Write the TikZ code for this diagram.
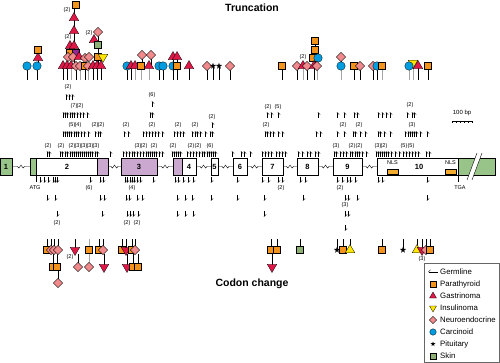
\documentclass[tikz,border=0pt]{standalone}
\usepackage{fontspec}
\setmainfont{Liberation Sans}
\usepackage{tikz}
\usetikzlibrary{arrows.meta, shapes.geometric}

\definecolor{exgreen}{RGB}{152,196,138}
\definecolor{expurple}{RGB}{203,168,208}
\definecolor{paracol}{RGB}{242,148,28}
\definecolor{gastcol}{RGB}{224,24,72}
\definecolor{insucol}{RGB}{255,232,0}
\definecolor{neurocol}{RGB}{240,138,140}
\definecolor{carccol}{RGB}{0,158,224}
\definecolor{skincol}{RGB}{142,176,116}
\definecolor{nlscol}{RGB}{242,172,48}
\definecolor{oddcol}{RGB}{150,40,150}

% intron with a break mark
\newcommand{\intron}[2]{\draw[line width=0.4pt] (#1,166.5) -- ({(#1+#2)/2-3.5},166.5) -- ++(1.5,1.5) -- ++(2,-3) -- ++(2,3) -- ++(1.5,-1.5) -- (#2,166.5);}

\begin{document}
\begin{tikzpicture}[x=1pt, y=-1pt,
  upa/.style={line width=0.4pt, -{Straight Barb[harpoon, swap, length=2pt, width=4.4pt]}},
  dna/.style={line width=0.4pt, -{Straight Barb[harpoon, length=2pt, width=4.4pt]}},
  stem/.style={line width=0.4pt},
  gstem/.style={line width=0.7pt, black!35},
  cnt/.style={font=\fontsize{5.5}{6}\selectfont, inner sep=0pt},
  small/.style={font=\fontsize{5.5}{6}\selectfont, inner sep=0pt},
  exlab/.style={font=\fontsize{7.5}{8}\selectfont\bfseries, inner sep=0pt},
  title/.style={font=\fontsize{10.5}{12}\selectfont\bfseries, inner sep=0pt},
  legtxt/.style={font=\fontsize{7.8}{9}\selectfont, anchor=west, inner sep=0pt},
  parabox/.style={draw, line width=0.3pt, fill=paracol, rectangle, minimum size=7pt, inner sep=0pt},
  skinbox/.style={parabox, fill=skincol},
  oddbox/.style={parabox, fill=oddcol},
  gastri/.style={draw, line width=0.3pt, fill=gastcol, regular polygon, regular polygon sides=3, minimum size=11pt, inner sep=0pt},
  gastinv/.style={gastri, shape border rotate=180},
  insuli/.style={gastri, fill=insucol, shape border rotate=180},
  insup/.style={gastri, fill=insucol},
  neuroe/.style={draw, line width=0.3pt, fill=neurocol, diamond, minimum size=9.5pt, inner sep=0pt},
  carcin/.style={draw, line width=0.3pt, fill=carccol, circle, minimum size=8.5pt, inner sep=0pt},
  pituit/.style={star, star points=5, star point ratio=2.5, fill=black, minimum size=6.5pt, inner sep=0pt}]

  \useasboundingbox (0,0) rectangle (500,363);

  % Titles
  \node[title] (ttrunc) at (252,8) {Truncation};
  \node[title] (tcodon) at (252,284) {Codon change};

  % Introns
  \intron{12}{30} \intron{108}{121} \intron{157}{173} \intron{196}{211} \intron{218}{233}
  \intron{247}{262} \intron{283}{297} \intron{318}{333} \intron{362}{377}

  % Exons
  \draw[line width=0.4pt, fill=exgreen] (0,158) rectangle (12,175);
  \draw[line width=0.4pt, fill=exgreen] (30,158) rectangle (36,175);
  \draw[line width=0.4pt, fill=white] (36,158) rectangle (97,175);
  \draw[line width=0.4pt, fill=expurple] (97,158) rectangle (108,175);
  \draw[line width=0.4pt, fill=expurple] (121,158) rectangle (157,175);
  \draw[line width=0.4pt, fill=expurple] (173,158) rectangle (182,175);
  \draw[line width=0.4pt, fill=white] (182,158) rectangle (196,175);
  \draw[line width=0.4pt, fill=white] (211,158) rectangle (218,175);
  \draw[line width=0.4pt, fill=white] (233,158) rectangle (247,175);
  \draw[line width=0.4pt, fill=white] (262,158) rectangle (283,175);
  \draw[line width=0.4pt, fill=white] (297,158) rectangle (318,175);
  \draw[line width=0.4pt, fill=white] (333,158) rectangle (362,175);
  \draw[line width=0.4pt, fill=white] (377,158) rectangle (458,175);
  \draw[line width=0.4pt, fill=exgreen] (458,158) rectangle (495,175);
  \foreach \x/\t [count=\i] in {6/1, 67/2, 139/3, 189/4, 214.5/5, 240/6, 272.5/7, 307.5/8, 347.5/9, 419/10}
    \node[exlab] (ex\i) at (\x,166.5) {\t};

  % NLS boxes
  \draw[line width=0.4pt, fill=nlscol] (387,169) rectangle (398,174.5);
  \draw[line width=0.4pt, fill=nlscol] (445,169) rectangle (456,174.5);
  \node[small] (nls1) at (392.5,163) {NLS};
  \node[small] (nls2) at (450.5,163) {NLS};

  % break in exon 10
  \fill[white] (467,180) -- (477,153) -- (482,153) -- (472,180) -- cycle;
  \draw[line width=0.4pt] (467,180) -- (477,153);
  \draw[line width=0.4pt] (472,180) -- (482,153);

  % ATG / TGA
  \draw[line width=0.4pt] (36,175) -- (36,182);
  \node[small] (atg) at (35,188) {ATG};
  \draw[line width=0.4pt] (458,175) -- (458,182);
  \node[small] (tga) at (460,188) {TGA};

  % scale bar
  \node[font=\fontsize{6}{7}\selectfont, inner sep=0pt] (bp) at (462,113) {100 bp};
  \draw[line width=0.4pt] (452,121) -- (472,121);
  \foreach \x in {452,456,460,464,468,472} \draw[line width=0.4pt] (\x,121) -- (\x,123.5);

  % truncating mutations above the exons
  \foreach \x in {47,49, 60,62,65,67,70,72,74,76,78,80,82,84,86,88,90,92,95,97, 110,
      123,126,129,132,134,137,140,143,146,148,150,152,154,156,159,162,
      172,174,176,178,180, 187,190,193,196,199,202, 204,207,209,211,213,215,
      232,241,244,250, 262,265,268,271,276,279,282,285, 298,302,307,310,315,318,
      334,336,340,343,346,350,352,355,357,359,362,366,
      376,378,380,382,384,386,388,391,395,399,403,406,409,412,415,418, 426,429}
    \draw[upa] (\x,157) -- ++(0,-6);
  \foreach \x in {63,65,67,69,71,74,76,78,81,84,88, 95,98,100, 124,128,
      143,146,149,152,155,158,162, 174,177,180,183, 192,195,197,200, 205,210,212,
      265,267,270,273, 278,282, 316,320, 337,344, 353,355,360,365,
      378,380,384,390, 405,408,410,412,414,416,420, 427}
    \draw[upa] (\x,137) -- ++(0,-6);
  \foreach \x in {63,65,67,70,72,74,77,80,83,87, 150,152, 267,271,278, 318,
      337,344, 354,357, 378,382,386,390, 407,412,414}
    \draw[upa] (\x,118) -- ++(0,-6);
  \foreach \x in {66,69,72} \draw[upa] (\x,100) -- ++(0,-6);
  \draw[upa] (212,128) -- ++(0,-6);
  \draw[upa] (152,107) -- ++(0,-6);

  % mutations below the exons
  \foreach \x in {40,44,48, 53,55,57, 90, 100,103, 125,127,130,132,134,137,140, 153,
      175,178,183,188,193, 211, 237, 262,268, 278,282, 300,305,
      337,342,347,350,355, 378,382, 427}
    \draw[dna] (\x,177) -- ++(0,6);
  \foreach \x in {47,55, 100,104, 126,129,137,142, 177,185,192, 211, 237, 264, 303,
      345,348, 357, 427}
    \draw[dna] (\x,195) -- ++(0,6);
  \foreach \x in {57, 102, 127,130,133,138, 177,185,193, 264, 345,348}
    \draw[dna] (\x,211) -- ++(0,6);
  \draw[dna] (345,225) -- ++(0,6);

  % counts
  \foreach \x/\y/\t [count=\i] in {48/146/2, 61/146/2, 72/146/2, 78/146/3, 84/146/3, 90/146/3, 96/146/3,
      138/146/3, 144/146/2, 154/146/2, 173/146/2, 191/146/2, 198/146/2, 210/146/6,
      336/146/3, 352/146/2, 359/146/2, 378/146/3, 384/146/2, 404/146/5, 411/146/5,
      72/125/5, 78/125/4, 95/125/2, 101/125/2, 126/125/2, 152/125/2, 178/125/2, 195/125/2,
      266/125/2, 343/125/2, 359/125/2, 412/125/3,
      74/106/7, 80/106/2, 268/107/2, 278/107/5, 410/105/2, 212/117/2, 68/87/2, 152/95/6,
      89/188/6, 132/188/4, 281/188/2, 340/188/2, 57/223/2, 127/223/2, 137/223/2, 345/205/3,
      67/10/2, 68/37/2, 89/33/2, 303/57/2, 70/257/2, 422/259/3}
    \node[cnt] (n\i) at (\x,\y) {(\t)};

  % Truncation: stems
  \foreach \x in {27,37,63,67,76,85,93,97,101,127,131,159,163,173,177,
      189,207,213,219,230,282,297,307,314,354,360,373,377,418,428}
    \draw[stem] (\x,66) -- (\x,80);
  \foreach \x in {71,80,88,135,141,149,303,317,341,382,409,413}
    \draw[gstem] (\x,66) -- (\x,80);
  \draw[stem] (38,50) -- (38,66);
  \draw[stem] (74,5) -- (74,66);
  \draw[stem] (98,32) -- (98,66);
  \foreach \x/\y in {142/55, 151/55, 173/57, 177/57, 315/41, 341/57}
    \draw[stem] (\x,\y) -- (\x,66);

  % Truncation: stacked symbols
  \foreach \x/\y/\s [count=\i] in {38/58/gastri, 38/50/parabox,
      76/5/parabox, 74/18/gastri, 74/31/gastri, 70/46/gastri, 74/46/gastri,
      70/53/parabox, 76/53/oddbox, 68/57/neuroe, 73/57/neuroe, 79/57/gastri, 85/58/neuroe, 89/57/neuroe,
      98/32/neuroe, 94/40/gastri, 98/45/skinbox, 98/57/parabox, 103/57/insuli,
      142/55/neuroe, 151/55/neuroe, 173/57/gastri, 177/57/gastri,
      315/41/parabox, 315/50/parabox, 313/58/parabox, 318/58/carcin, 341/57/neuroe, 413/63/insuli}
    \node[\s] (s\i) at (\x,\y) {};

  % Truncation: base row
  \foreach \x/\s [count=\i] in {27/carcin, 37/carcin, 63/gastri, 67/gastri, 71/gastri, 76/neuroe,
      80/neuroe, 85/parabox, 88/neuroe, 93/gastri, 97/gastri, 101/gastri, 127/carcin, 131/gastri,
      135/gastri, 141/parabox, 149/gastri, 159/carcin, 163/carcin, 173/carcin, 177/parabox,
      189/gastri, 207/neuroe, 213/pituit, 219/pituit, 230/neuroe, 282/parabox, 297/neuroe,
      303/gastri, 307/neuroe, 314/gastri, 317/neuroe, 341/carcin, 354/parabox, 360/neuroe,
      373/neuroe, 377/carcin, 382/parabox, 409/carcin, 418/gastri, 428/parabox}
    \node[\s] (t\i) at (\x,66) {};

  % Codon change: stems
  \foreach \x in {47,51,54,58,75,99,103,122,126,132,135,271,277,300,337,343,350,382,403,417,422,426,430}
    \draw[stem] (\x,239) -- (\x,250);
  \draw[gstem] (89,239) -- (89,250);
  \foreach \x in {53,57,78,104,127,133,138,272}
    \draw[stem] (\x,254) -- (\x,267);
  \draw[gstem] (89,254) -- (89,267);
  \draw[stem] (58,267) -- (58,283);

  % Codon change: symbols
  \foreach \x/\y/\s [count=\i] in {58/283/neuroe,
      53/267/parabox, 57/267/parabox, 78/267/neuroe, 89/267/neuroe, 104/267/gastinv,
      127/267/gastinv, 133/267/parabox, 138/267/parabox, 272/267/gastinv,
      47/250/parabox, 51/250/neuroe, 54/250/neuroe, 58/250/neuroe, 75/250/gastinv, 89/250/parabox,
      99/250/parabox, 103/250/neuroe, 122/250/parabox, 126/250/gastinv, 132/250/parabox, 135/250/neuroe,
      271/250/parabox, 277/250/parabox, 300/250/skinbox, 337/250/pituit, 343/250/parabox, 350/250/insup,
      382/250/parabox, 403/250/pituit, 417/250/insup, 422/250/gastinv, 426/250/neuroe, 430/250/parabox}
    \node[\s] (c\i) at (\x,\y) {};

  % Legend
  \draw[line width=0.5pt, black!60] (424,263) rectangle (499,362);
  \draw[upa] (438,272) -- (428,272);
  \node[parabox, minimum size=5.5pt] (lp) at (433,284) {};
  \node[gastri, minimum size=8pt] (lg) at (433,296) {};
  \node[insuli, minimum size=8pt] (li) at (433,308) {};
  \node[neuroe, minimum size=7.5pt] (ln) at (433,320) {};
  \node[carcin, minimum size=6.5pt] (lc) at (433,332) {};
  \node[pituit, minimum size=5pt] (ls) at (433,344) {};
  \node[skinbox, minimum size=5.5pt] (lk) at (433,356) {};
  \foreach \y/\t [count=\i] in {272/Germline, 284/Parathyroid, 296/Gastrinoma, 308/Insulinoma,
      320/Neuroendocrine, 332/Carcinoid, 344/Pituitary, 356/Skin}
    \node[legtxt] (lt\i) at (440,\y) {\t};
\end{tikzpicture}
\end{document}
